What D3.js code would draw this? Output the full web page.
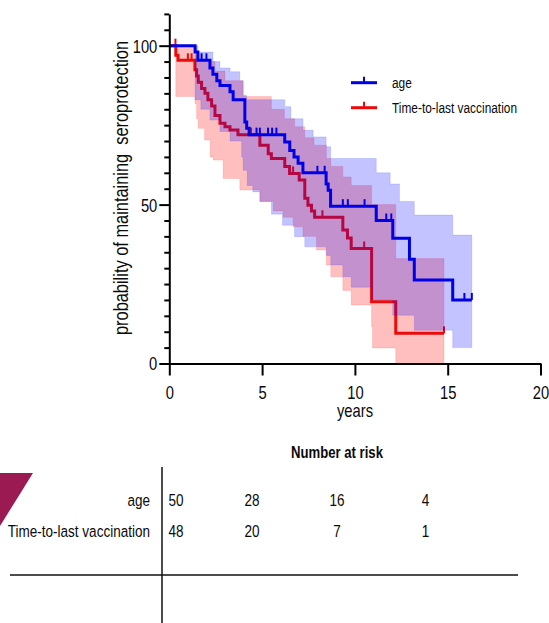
<!DOCTYPE html>
<html><head><meta charset="utf-8">
<script src="https://cdn.jsdelivr.net/npm/d3@7"></script>
<style>
html,body{margin:0;padding:0;background:#fff;}
svg{display:block;}
text{font-family:"Liberation Sans",Arial,sans-serif;fill:#0a0a0a;}
</style></head><body>
<svg id="c" width="549" height="623"></svg>
<script>
// ---------------- data ----------------
const xTicks = [0, 5, 10, 15, 20];
const yTicks = [0,5,10,15,20,25,30,35,40,45,50,55,60,65,70,75,80,85,90,95,100,105,110];
const yTickLabels = [0, 50, 100];
const seriesNames = ["age", "Time-to-last vaccination"];

// age (blue) Kaplan-Meier curve
const ageTime = [0, 1.39, 1.54, 2.19, 2.35, 2.56, 2.73, 3.27, 3.44, 4.07, 4.17, 4.3, 6.22, 6.49, 6.72, 6.94, 7.2, 8.45, 8.56, 8.69, 11.15, 12.04, 12.94, 13.2, 15.27, 16.3];
const ageSurv = [100, 98, 95.4, 93, 91, 89, 87.5, 85.5, 83, 76, 74, 72, 69.7, 67, 65, 63, 60, 56.5, 54.5, 49.5, 45, 39.4, 32.8, 26.3, 20, 20];
const ageCensor = [1.74, 2.0, 4.7, 4.88, 5.32, 5.54, 5.77, 7.98, 8.37, 9.35, 9.62, 10.52, 11.69, 11.96, 15.9, 16.3];
const ageHiTime = [0, 1.54, 2.35, 2.73, 3.27, 3.8, 3.98, 4.16, 6.22, 6.55, 7.2, 7.75, 8.45, 8.69, 11.15, 11.9, 12.4, 13.2, 15.27, 16.3];
const ageHiVal  = [100, 98, 95, 93, 91.8, 89, 84.4, 83, 80.8, 77, 73.4, 71.3, 68.2, 64.5, 60, 56.5, 51, 46.7, 40.4, 40.4];
const ageLoTime = [0, 1.39, 1.7, 2.19, 2.73, 3.27, 3.9, 3.98, 4.2, 4.5, 4.88, 5.5, 6.1, 6.75, 7.3, 8.46, 8.7, 9.35, 9.8, 10.9, 12.04, 13.2, 15.27, 16.3];
const ageLoVal  = [100, 83, 80, 76.6, 73, 70, 65, 60.8, 56, 54, 51, 47, 43.5, 39.9, 36.7, 34, 31, 27.3, 24, 20, 15.2, 10.5, 5, 5];

// time-to-last vaccination (red) Kaplan-Meier curve
const vacTime = [0, 0.35, 0.47, 1.38, 1.47, 1.56, 1.74, 1.92, 2.08, 2.28, 2.46, 2.73, 3.0, 3.27, 3.7, 4.88, 5.33, 5.5, 6.22, 6.48, 7.0, 7.3, 7.47, 7.66, 7.83, 9.35, 9.6, 9.8, 10.9, 12.2, 14.8];
const vacSurv = [100, 97, 95.4, 92.4, 90.5, 88.5, 86.5, 85, 83, 81, 78, 75.6, 74.5, 73.5, 72, 68.7, 66, 64.5, 62, 59.8, 57.7, 52, 49.8, 48, 46, 42, 39.5, 36.2, 19.4, 9.5, 9.5];
const vacCensor = [0.33, 1.0, 1.2, 4.4, 6.67, 8.25, 10.5, 14.8];
const vacHiTime = [0, 0.35, 1.38, 1.56, 2.46, 3.0, 3.98, 5.5, 6.2, 6.75, 7.3, 7.8, 8.46, 8.7, 9.35, 9.8, 10.9, 12.2, 14.8];
const vacHiVal  = [100, 99.5, 97, 95, 92, 89, 84, 80, 77, 74.5, 71, 68.7, 64.5, 62, 58.7, 56, 50, 33, 33];
const vacLoTime = [0, 0.35, 1.38, 1.47, 1.56, 1.9, 2.2, 2.37, 2.9, 3.8, 4.88, 5.6, 6.13, 6.67, 7.2, 7.93, 8.46, 8.7, 9.35, 9.8, 10.9, 10.95, 12.2, 14.8];
const vacLoVal  = [100, 84, 81.8, 77, 74, 70.3, 65, 64, 58.2, 54.6, 51, 48, 46, 43, 40, 35.7, 31, 27.3, 23, 18.4, 11.6, 4.9, 0, 0];

// number at risk table
const riskTimes = [0, 5, 10, 15];
const riskAge = [50, 28, 16, 4];
const riskVac = [48, 20, 7, 1];

// ---------------- drawing ----------------
const NARROW = 0.82;
const svg = d3.select("#c");
const x = d3.scaleLinear().domain([0, 20]).range([169.3, 540.5]);
const y = d3.scaleLinear().domain([0, 110]).range([363.5, 13.9]);

const BLUE = "#0000e6", RED = "#ec0a0a";

function narrow(sel){
  sel.each(function(){
    const t = d3.select(this);
    const tx = +t.attr("x") || 0, ty = +t.attr("y") || 0;
    t.attr("x", null).attr("y", null)
     .attr("transform", `translate(${tx},${ty}) scale(${NARROW},1)`);
  });
}

function stepFn(times, vals){
  return t => vals[Math.max(0, d3.bisectRight(times, t) - 1)];
}

function bandData(hiT, hiV, loT, loV){
  const hi = stepFn(hiT, hiV), lo = stepFn(loT, loV);
  const ts = Array.from(new Set(hiT.concat(loT))).sort((a,b)=>a-b);
  return ts.map(t => ({t, hi: hi(t), lo: lo(t)}));
}

const area = d3.area().curve(d3.curveStepAfter)
  .x(d => x(d.t)).y0(d => y(d.lo)).y1(d => y(d.hi));
const line = d3.line().curve(d3.curveStepAfter)
  .x(d => x(d[0])).y(d => y(d[1]));

function drawSeries(times, surv, censor, hiT, hiV, loT, loV, color, fill, edge){
  const g = svg.append("g");
  const band = () => g.append("path").datum(bandData(hiT, hiV, loT, loV))
    .attr("d", area).attr("fill", fill).attr("stroke", edge).attr("stroke-width", 1);
  return {g, band, lines: () => {
    g.append("path").datum(times.map((t,i)=>[t, surv[i]]))
      .attr("d", line).attr("fill","none").attr("stroke", color)
      .attr("stroke-width", 3).attr("stroke-linejoin","miter");
    const S = stepFn(times, surv);
    g.selectAll(null).data(censor).enter().append("line")
      .attr("x1", d => x(d)).attr("x2", d => x(d))
      .attr("y1", d => y(S(d))).attr("y2", d => y(S(d)) - 7)
      .attr("stroke", color).attr("stroke-width", 2);
  }};
}

const red = drawSeries(vacTime, vacSurv, vacCensor, vacHiTime, vacHiVal, vacLoTime, vacLoVal,
  RED, "rgba(255,0,0,0.25)", "rgba(255,0,0,0.12)");
red.band(); red.lines();
const blue = drawSeries(ageTime, ageSurv, ageCensor, ageHiTime, ageHiVal, ageLoTime, ageLoVal,
  BLUE, "rgba(0,0,255,0.235)", "rgba(0,0,255,0.12)");
blue.band(); blue.lines();

// x axis
const gx = svg.append("g").attr("transform", `translate(0,${y(0)})`)
  .call(d3.axisBottom(x).tickValues(xTicks).tickSize(12).tickSizeOuter(0));
gx.select(".domain").attr("stroke","#000").attr("stroke-width",2);
gx.selectAll(".tick line").attr("stroke","#000").attr("stroke-width",2);
gx.selectAll(".tick text").attr("font-size",18).attr("font-family","Liberation Sans, Arial, sans-serif")
  .attr("fill","#0a0a0a").attr("dy",null).attr("y", 399 - y(0)).attr("x",0);
narrow(gx.selectAll(".tick text"));

// y axis
const gy = svg.append("g").attr("transform", `translate(${x(0)},0)`)
  .call(d3.axisLeft(y).tickValues(yTicks).tickSize(5).tickSizeOuter(0)
    .tickFormat(d => yTickLabels.includes(d) ? d : ""));
gy.select(".domain").attr("stroke","#000").attr("stroke-width",2);
gy.selectAll(".tick line").attr("stroke","#000").attr("stroke-width",2)
  .attr("x2", d => yTickLabels.includes(d) ? -10 : -5);
gy.selectAll(".tick text").attr("font-size",18).attr("font-family","Liberation Sans, Arial, sans-serif")
  .attr("fill","#0a0a0a").attr("y",0).attr("dy","0.36em");
gy.selectAll(".tick text").each(function(){
  d3.select(this).attr("transform", `translate(-12,0) scale(${NARROW},1)`).attr("x", null);
});

// axis titles
svg.append("text").attr("text-anchor","middle").attr("font-size",18)
  .attr("x", 355).attr("y", 417).text("years").call(narrow);
svg.append("text").attr("text-anchor","middle").attr("font-size",20)
  .style("white-space","pre")
  .attr("transform", `translate(128,188) rotate(-90) scale(${NARROW},1)`)
  .text("probability of maintaining  seroprotection");

// legend
const legend = svg.append("g");
const legColors = [BLUE, RED];
const legY = [82.7, 107.7];
seriesNames.forEach((name, i) => {
  legend.append("line").attr("x1", 351).attr("x2", 377).attr("y1", legY[i]).attr("y2", legY[i])
    .attr("stroke", legColors[i]).attr("stroke-width", 3);
  legend.append("line").attr("x1", 364).attr("x2", 364).attr("y1", legY[i]).attr("y2", legY[i]-6)
    .attr("stroke", legColors[i]).attr("stroke-width", 2);
  legend.append("text").attr("x", 392).attr("y", legY[i] + 5).attr("font-size", 14.5)
    .text(name).call(narrow);
});

// number at risk table
const rx = d3.scaleLinear().domain(riskTimes).range([176, 252, 337, 425.5]);
svg.append("text").attr("x", 337).attr("y", 458).attr("text-anchor","middle")
  .attr("font-size", 16).attr("font-weight","bold").text("Number at risk").call(narrow);
svg.append("line").attr("x1",162).attr("x2",162).attr("y1",467).attr("y2",623)
  .attr("stroke","#111").attr("stroke-width",1.5);
svg.append("line").attr("x1",10).attr("x2",518).attr("y1",575).attr("y2",575)
  .attr("stroke","#111").attr("stroke-width",1.5);
const rows = [riskAge, riskVac];
const rowY = [505.5, 536.5];
rows.forEach((vals, i) => {
  svg.append("text").attr("x", 150).attr("y", rowY[i]).attr("text-anchor","end")
    .attr("font-size", 16.5).text(seriesNames[i]).call(narrow);
  svg.selectAll(null).data(vals).enter().append("text")
    .attr("x", (d,j) => rx(riskTimes[j])).attr("y", rowY[i]).attr("text-anchor","middle")
    .attr("font-size", 16.5).text(d => d).call(narrow);
});

// decorative triangle at left
svg.append("path").attr("d", d3.line()([[0,473],[33,473],[0,526]]) + "Z").attr("fill", "#9b1a52");
</script>
</body></html>
